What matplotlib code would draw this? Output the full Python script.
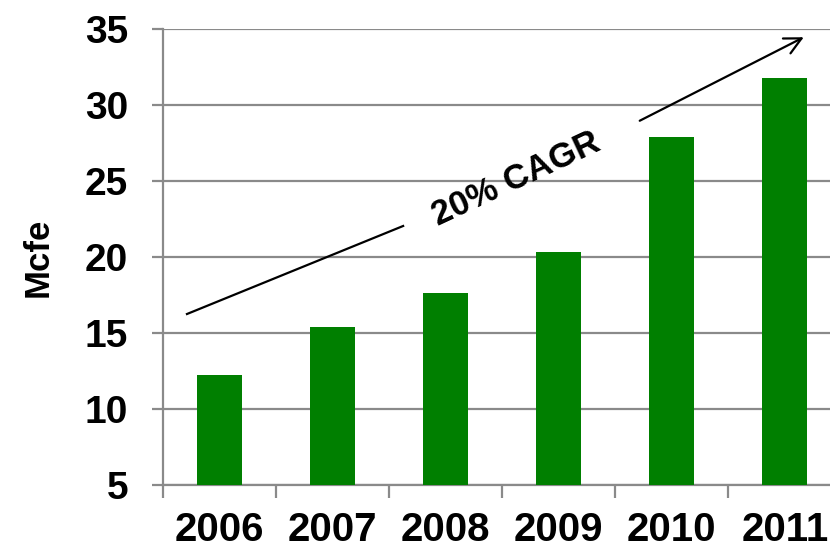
import numpy as np
import matplotlib.pyplot as plt

# data
years = ['2006', '2007', '2008', '2009', '2010', '2011']
mcfe = [12.25, 15.4, 17.6, 20.3, 27.9, 31.8]
cagr_label = '20% CAGR'

plt.rcParams['font.family'] = ['Liberation Sans', 'DejaVu Sans']
plt.rcParams['font.weight'] = 'bold'

fig = plt.figure(figsize=(8.3, 5.54), dpi=100)
ax = fig.add_axes([0.1964, 0.1245, 0.8036, 0.8232])

x = np.arange(len(years))
ax.bar(x, mcfe, width=0.4, color='#007f00', zorder=3)

ax.set_ylim(5, 35)
ax.set_xlim(-0.5, 5.40)
ax.set_yticks(range(5, 36, 5))
ax.yaxis.grid(True, color='#8a8a8a', linewidth=1.6, zorder=0)
ax.set_axisbelow(True)

for s in ['top', 'right']:
    ax.spines[s].set_visible(False)
for s in ['left', 'bottom']:
    ax.spines[s].set_color('#8a8a8a')
    ax.spines[s].set_linewidth(1.6)

ax.set_xticks(x)
ax.set_xticklabels(years)
ax.set_xticks(np.arange(-0.5, 5.0, 1.0), minor=True)
ax.tick_params(axis='x', which='major', length=0, pad=19, labelsize=29)
ax.tick_params(axis='x', which='minor', length=9, width=1.6, color='#8a8a8a')
ax.tick_params(axis='y', length=8, width=1.6, color='#8a8a8a', pad=17, labelsize=28)

ax.set_ylabel('Mcfe', fontsize=25, fontweight='bold', labelpad=22)

# growth arrow, broken around the label
p0, p1 = (-0.288, 16.25), (1.624, 22.04)
p2, p3 = (3.695, 28.88), (5.19, 34.54)
ax.plot([p0[0], p1[0]], [p0[1], p1[1]], color='black', linewidth=1.6, zorder=4, clip_on=False)
ax.annotate('', xy=p3, xytext=p2,
            arrowprops=dict(arrowstyle='->', color='black', lw=1.6, mutation_scale=30),
            zorder=4, annotation_clip=False)
ax.text(2.62, 25.1, cagr_label, rotation=25, rotation_mode='anchor',
        ha='center', va='center', fontsize=25, fontweight='bold', zorder=5)

fig.savefig('out.png', dpi=100)
